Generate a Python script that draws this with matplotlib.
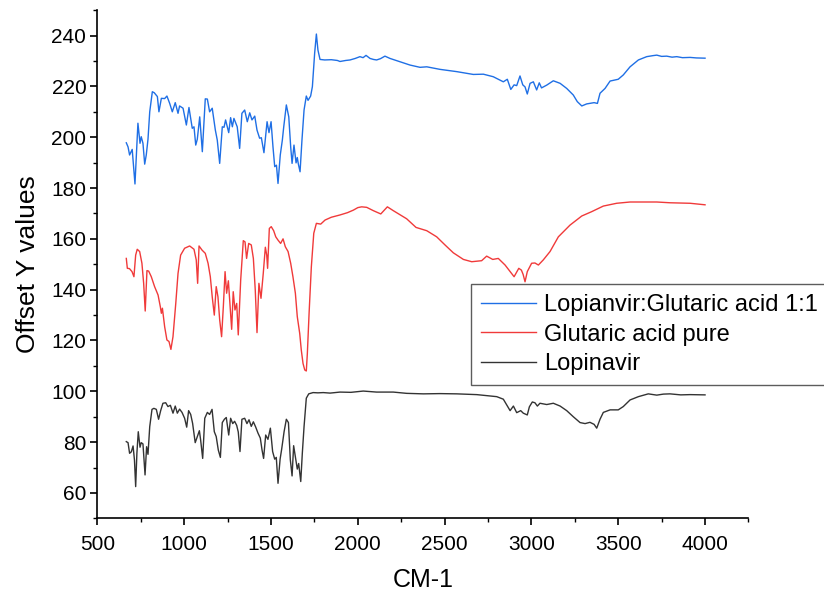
import matplotlib
matplotlib.use("Agg")
import matplotlib.pyplot as plt
from matplotlib.ticker import MultipleLocator

plt.rcParams['font.family'] = ['Liberation Sans', 'DejaVu Sans']

# Lopianvir:Glutaric acid 1:1 (blue)
blue_x = [666, 676, 685, 700, 716, 733, 745, 752, 762, 772, 781, 791, 801, 816, 827, 845, 854, 868,
          887, 900, 916, 931, 948, 964, 973, 993, 1012, 1027, 1046, 1056, 1066, 1075, 1089, 1104,
          1121, 1133, 1146, 1161, 1179, 1190, 1204, 1219, 1229, 1238, 1256, 1267, 1277, 1286, 1305,
          1319, 1332, 1348, 1363, 1377, 1390, 1406, 1419, 1434, 1444, 1459, 1477, 1488, 1500, 1511,
          1521, 1531, 1540, 1553, 1565, 1573, 1588, 1602, 1613, 1621, 1632, 1644, 1651, 1657, 1667,
          1678, 1690, 1703, 1713, 1728, 1738, 1751, 1761, 1770, 1782, 1809, 1847, 1882, 1897, 1930,
          1955, 1985, 2012, 2030, 2047, 2070, 2090, 2108, 2130, 2156, 2185, 2243, 2300, 2358, 2397,
          2473, 2570, 2665, 2723, 2780, 2838, 2861, 2881, 2900, 2915, 2934, 2950, 2963, 2976, 2992,
          3011, 3030, 3045, 3058, 3088, 3126, 3165, 3203, 3241, 3264, 3290, 3318, 3361, 3380, 3395,
          3424, 3453, 3500, 3529, 3568, 3616, 3664, 3700, 3722, 3750, 3779, 3810, 3837, 3870, 3914,
          3950, 4000]
blue_y = [197.8, 196.2, 193.0, 195.2, 181.6, 205.5, 197.6, 200.2, 197.6, 189.4, 193.0, 199.2, 210.0,
          217.9, 217.5, 216.0, 210.0, 215.3, 215.2, 216.2, 213.3, 210.0, 213.6, 209.4, 212.3, 211.4,
          204.8, 211.7, 203.5, 204.1, 196.9, 199.2, 208.0, 194.3, 215.1, 215.0, 210.0, 211.4, 202.8,
          198.9, 189.7, 204.1, 203.9, 206.8, 201.8, 207.7, 204.1, 207.4, 204.1, 195.6, 209.4, 210.7,
          206.1, 209.6, 206.8, 208.3, 202.8, 199.6, 199.8, 193.9, 206.1, 201.8, 206.1, 196.2, 188.4,
          189.0, 181.8, 193.0, 198.9, 204.1, 212.7, 208.0, 196.2, 189.7, 196.9, 189.9, 192.0, 189.5,
          186.4, 198.9, 210.7, 216.2, 214.5, 216.2, 219.9, 233.0, 240.6, 234.3, 230.6, 230.4, 230.5,
          230.2, 229.8, 230.2, 230.4, 231.0, 231.7, 231.3, 232.2, 231.0, 230.6, 230.4, 230.9, 231.9,
          231.0, 229.7, 228.4, 227.5, 227.7, 226.7, 225.8, 224.7, 224.8, 223.8, 221.8, 222.8, 218.8,
          220.6, 220.3, 224.1, 220.6, 219.8, 217.0, 221.2, 221.8, 218.6, 221.4, 219.4, 220.5, 222.2,
          221.2, 219.2, 216.6, 214.0, 212.3, 213.1, 213.6, 213.3, 217.3, 219.2, 222.1, 222.8, 224.5,
          227.7, 230.4, 231.7, 232.1, 232.3, 231.8, 231.9, 231.5, 231.7, 231.3, 231.4, 231.2, 231.1]

# Glutaric acid pure (red)
red_x = [666, 672, 684, 699, 710, 720, 729, 743, 756, 766, 775, 785, 795, 810, 829, 849, 862, 868,
         874, 887, 900, 912, 923, 935, 951, 964, 979, 1002, 1031, 1056, 1069, 1077, 1085, 1102, 1121,
         1137, 1150, 1161, 1173, 1184, 1194, 1204, 1215, 1225, 1235, 1244, 1254, 1263, 1273, 1282,
         1292, 1302, 1311, 1325, 1340, 1350, 1359, 1371, 1386, 1398, 1409, 1419, 1430, 1442, 1455,
         1467, 1475, 1480, 1490, 1501, 1515, 1527, 1540, 1555, 1569, 1582, 1598, 1613, 1626, 1640,
         1651, 1665, 1674, 1684, 1694, 1703, 1709, 1719, 1732, 1746, 1761, 1786, 1811, 1847, 1897,
         1940, 1974, 2000, 2022, 2051, 2089, 2132, 2170, 2204, 2281, 2335, 2397, 2454, 2502, 2550,
         2608, 2656, 2713, 2742, 2777, 2809, 2848, 2877, 2900, 2927, 2942, 2952, 2963, 2976, 3001,
         3020, 3040, 3068, 3107, 3155, 3222, 3290, 3347, 3414, 3491, 3568, 3645, 3722, 3798, 3914,
         4000]
red_y = [152.3, 148.4, 148.3, 147.1, 145.1, 153.6, 155.9, 155.0, 150.4, 142.5, 131.6, 147.5, 147.3,
         145.1, 141.2, 137.9, 133.3, 130.7, 132.7, 125.4, 120.2, 119.6, 116.5, 121.5, 134.6, 146.4,
         153.6, 156.3, 157.2, 155.9, 151.7, 142.5, 157.2, 155.6, 154.3, 150.4, 145.1, 137.2, 130.0,
         141.2, 137.2, 128.1, 121.5, 133.3, 147.1, 138.6, 143.5, 134.6, 124.4, 139.2, 132.0, 134.6,
         122.2, 143.8, 159.3, 158.8, 152.3, 158.2, 157.6, 152.3, 139.8, 123.1, 142.5, 136.6, 146.4,
         156.7, 153.6, 148.4, 164.1, 164.8, 163.2, 160.8, 159.5, 158.2, 160.0, 156.9, 155.0, 150.4,
         145.1, 138.6, 129.4, 122.8, 116.3, 111.0, 108.4, 108.0, 114.9, 130.7, 149.0, 162.2, 166.1,
         165.8, 167.4, 168.5, 169.4, 170.3, 171.3, 172.3, 172.6, 172.4, 171.1, 169.8, 172.6, 171.1,
         167.9, 164.5, 163.2, 160.8, 157.6, 154.5, 151.9, 151.0, 151.4, 153.2, 151.9, 152.3, 149.7,
         147.1, 145.1, 148.4, 147.7, 146.0, 143.1, 147.1, 150.4, 150.5, 149.7, 151.7, 155.0, 160.8,
         165.4, 169.0, 170.7, 172.9, 174.0, 174.5, 174.5, 174.5, 174.2, 174.0, 173.4]

# Lopinavir (black)
black_x = [666, 676, 685, 695, 705, 713, 720, 727, 735, 745, 752, 762, 774, 783, 791, 801, 814, 825,
           839, 852, 864, 877, 893, 906, 920, 935, 948, 960, 973, 987, 1002, 1014, 1025, 1037, 1048,
           1063, 1075, 1087, 1094, 1106, 1118, 1133, 1146, 1160, 1173, 1184, 1196, 1208, 1219, 1231,
           1242, 1256, 1267, 1279, 1290, 1302, 1311, 1321, 1332, 1348, 1361, 1373, 1386, 1398, 1411,
           1425, 1438, 1448, 1457, 1469, 1482, 1496, 1509, 1521, 1530, 1540, 1552, 1561, 1575, 1588,
           1600, 1611, 1621, 1630, 1642, 1651, 1659, 1671, 1680, 1690, 1703, 1717, 1742, 1770, 1801,
           1840, 1897, 1960, 2031, 2108, 2204, 2281, 2377, 2473, 2570, 2685, 2800, 2838, 2858, 2877,
           2896, 2915, 2938, 2953, 2976, 2988, 3005, 3020, 3034, 3049, 3088, 3126, 3165, 3203, 3241,
           3280, 3309, 3337, 3361, 3376, 3395, 3414, 3453, 3500, 3529, 3568, 3616, 3673, 3722, 3760,
           3798, 3860, 3914, 4000]
black_y = [80.2, 79.8, 75.6, 76.2, 78.5, 73.0, 62.5, 75.6, 84.1, 78.0, 79.8, 79.3, 67.1, 78.2, 75.2,
           86.1, 92.9, 93.3, 92.9, 89.0, 92.4, 95.3, 95.5, 94.0, 94.5, 91.4, 94.2, 91.4, 93.0, 91.7,
           89.4, 85.9, 92.4, 90.9, 87.4, 79.8, 82.2, 84.5, 81.0, 73.6, 89.4, 91.7, 90.9, 92.9, 84.1,
           82.2, 76.9, 74.0, 87.7, 89.0, 89.7, 82.8, 89.4, 87.3, 88.2, 86.6, 84.0, 76.3, 89.0, 89.4,
           87.3, 88.8, 86.2, 88.0, 86.0, 83.5, 81.6, 76.9, 73.6, 82.8, 81.1, 85.5, 76.3, 73.3, 74.0,
           63.8, 73.3, 77.2, 84.1, 89.0, 87.7, 73.0, 66.7, 78.6, 73.3, 69.4, 71.6, 64.5, 75.6, 86.1,
           97.3, 99.0, 99.5, 99.4, 99.5, 99.3, 99.7, 99.6, 100.1, 99.7, 99.7, 99.2, 99.0, 99.1, 99.0,
           98.7, 97.9, 96.9, 94.6, 92.4, 94.2, 91.6, 92.4, 91.4, 90.7, 93.9, 95.8, 95.5, 94.2, 95.3,
           94.8, 95.3, 94.2, 92.4, 90.0, 87.7, 87.3, 87.8, 87.0, 85.5, 89.0, 91.7, 92.7, 92.7, 94.0,
           96.6, 97.9, 99.0, 98.5, 98.9, 99.0, 98.6, 98.7, 98.6]

labels = ["Lopianvir:Glutaric acid 1:1", "Glutaric acid pure", "Lopinavir"]
colors = ["#1F6FE5", "#F03A3A", "#333333"]

fig = plt.figure(figsize=(8.24, 5.97), dpi=100)
ax = fig.add_axes([0.1183, 0.1317, 0.79, 0.8513])

ax.plot(blue_x, blue_y, color=colors[0], lw=1.0, label=labels[0])
ax.plot(red_x, red_y, color=colors[1], lw=1.0, label=labels[1])
ax.plot(black_x, black_y, color=colors[2], lw=1.0, label=labels[2])

ax.set_xlim(500, 4250)
ax.set_ylim(50, 250)
ax.xaxis.set_major_locator(MultipleLocator(500))
ax.xaxis.set_minor_locator(MultipleLocator(250))
ax.yaxis.set_minor_locator(MultipleLocator(10))
ax.set_yticks(range(60, 241, 20))

for s in ['top', 'right']:
    ax.spines[s].set_visible(False)
for s in ['left', 'bottom']:
    ax.spines[s].set_linewidth(1.2)
ax.tick_params(which='major', direction='out', length=5, width=1.2, labelsize=15)
ax.tick_params(axis='x', which='major', pad=7)
ax.tick_params(axis='y', which='major', pad=3)
ax.tick_params(which='minor', direction='out', length=3, width=1.0)

ax.set_xlabel("CM-1", fontsize=18, labelpad=10)
ax.set_ylabel("Offset Y values", fontsize=19, labelpad=8)

leg = fig.legend(loc='upper left', bbox_to_anchor=(0.5716, 0.5243), fontsize=17,
                 frameon=True, fancybox=False, edgecolor='#333333', handlelength=2.33,
                 labelspacing=0.33, borderaxespad=0, borderpad=0.42, handletextpad=0.35)
leg.get_frame().set_linewidth(1.0)

fig.savefig("out.png", dpi=100)
